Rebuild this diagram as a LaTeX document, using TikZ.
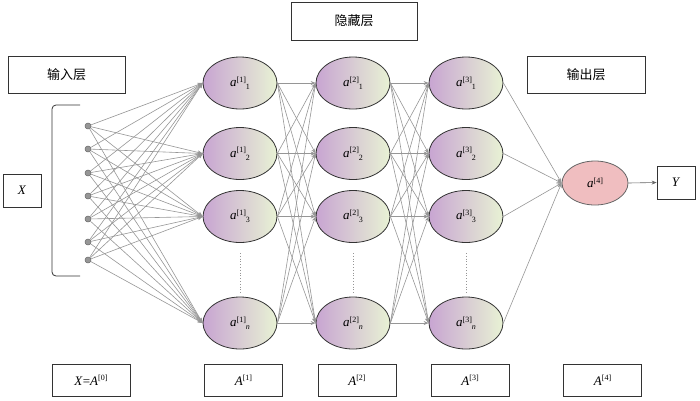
\documentclass[tikz,border=0pt]{standalone}
\usepackage{fontspec}
\setmainfont{Liberation Serif}
\newfontfamily\cjk{Noto Sans CJK SC}
\usetikzlibrary{shapes.geometric,arrows.meta}
\definecolor{lpurple}{RGB}{200,165,210}
\definecolor{lgreen}{RGB}{232,242,212}
\definecolor{lpink}{RGB}{240,190,192}
\definecolor{wire}{RGB}{150,150,150}
\newcommand\lab[2]{\textit{a}\raisebox{4.5pt}{\fontsize{8}{9}\selectfont[#1]}\raisebox{-3pt}{\fontsize{8}{9}\selectfont#2}}
\newcommand\supr[1]{\raisebox{4.5pt}{\fontsize{8}{9}\selectfont[#1]}}
\tikzset{
  neuron/.style={ellipse,draw=black!80,line width=0.8pt,minimum width=74pt,minimum height=52pt,inner sep=0pt,left color=lpurple,right color=lgreen,font=\fontsize{13}{15}\selectfont},
  outneuron/.style={ellipse,draw=black!60,line width=0.8pt,minimum width=66pt,minimum height=44pt,inner sep=0pt,fill=lpink,font=\fontsize{13}{15}\selectfont},
  inp/.style={circle,draw=black!60,fill=wire,minimum size=6pt,inner sep=0pt,line width=0.5pt},
  labbox/.style={draw=black!80,line width=0.8pt,inner sep=0pt,font=\fontsize{13}{15}\selectfont},
  wirearrow/.style={draw=wire,line width=0.6pt,-{Stealth[length=5pt,width=4pt]}},
}
\begin{document}
\begin{tikzpicture}[x=1pt,y=-1pt]
\useasboundingbox (0,0) rectangle (700,400);
% boxes
\node[labbox,minimum width=117pt,minimum height=37pt] (inbox) at (66.5,74.5) {\cjk 输入层};
\node[labbox,minimum width=126pt,minimum height=38pt] (hidbox) at (354,21) {\cjk 隐藏层};
\node[labbox,minimum width=118pt,minimum height=37pt] (outbox) at (586,74.5) {\cjk 输出层};
\node[labbox,minimum width=38pt,minimum height=33pt] (xbox) at (22,190.5) {\textit{X}};
\node[labbox,minimum width=38pt,minimum height=33pt] (ybox) at (676,182.5) {\textit{Y}};
\node[labbox,minimum width=78pt,minimum height=32pt] (b0) at (91,380) {\textit{X}=\textit{A}\supr{0}};
\node[labbox,minimum width=78pt,minimum height=32pt] (b1) at (243.5,380) {\textit{A}\supr{1}};
\node[labbox,minimum width=78pt,minimum height=32pt] (b2) at (357,380) {\textit{A}\supr{2}};
\node[labbox,minimum width=78pt,minimum height=32pt] (b3) at (470,380) {\textit{A}\supr{3}};
\node[labbox,minimum width=78pt,minimum height=32pt] (b4) at (602.5,380) {\textit{A}\supr{4}};
% bracket
\coordinate (brt) at (80,105);
\coordinate (brb) at (80,276);
\draw[black!80,line width=0.8pt] (brt) -- (56,105) to[out=180,in=90] (52,109) -- (52,272) to[out=270,in=180] (56,276) -- (brb);
% input nodes
\foreach \i/\y in {1/126,2/149,3/173,4/196,5/219,6/242,7/260}
  \node[inp] (x\i) at (88,\y) {};
% hidden layers
\foreach \l/\x in {1/240,2/353,3/466}{
  \node[neuron] (n\l-1) at (\x,83) {\lab{\l}{1}};
  \node[neuron] (n\l-2) at (\x,153.5) {\lab{\l}{2}};
  \node[neuron] (n\l-3) at (\x,216.5) {\lab{\l}{3}};
  \node[neuron] (n\l-4) at (\x,323) {\lab{\l}{\textit{n}}};
  \coordinate (d\l a) at (\x,253);
  \coordinate (d\l b) at (\x,294);
  \draw[wire,line width=0.8pt,dotted] (d\l a) -- (d\l b);
}
\node[outneuron] (out) at (595,183) {\textit{a}\supr{4}};
% connections
\foreach \i in {1,...,7}
  \foreach \j in {1,...,4}
    \draw[wirearrow] (x\i) -- (n1-\j.west);
\foreach \l/\m in {1/2,2/3}
  \foreach \i in {1,...,4}
    \foreach \j in {1,...,4}
      \draw[wirearrow] (n\l-\i.east) -- (n\m-\j.west);
\foreach \i in {1,...,4}
  \draw[wirearrow] (n3-\i.east) -- (out.west);
\draw[wirearrow,draw=black!60] (out.east) -- (ybox.west);
\end{tikzpicture}
\end{document}
